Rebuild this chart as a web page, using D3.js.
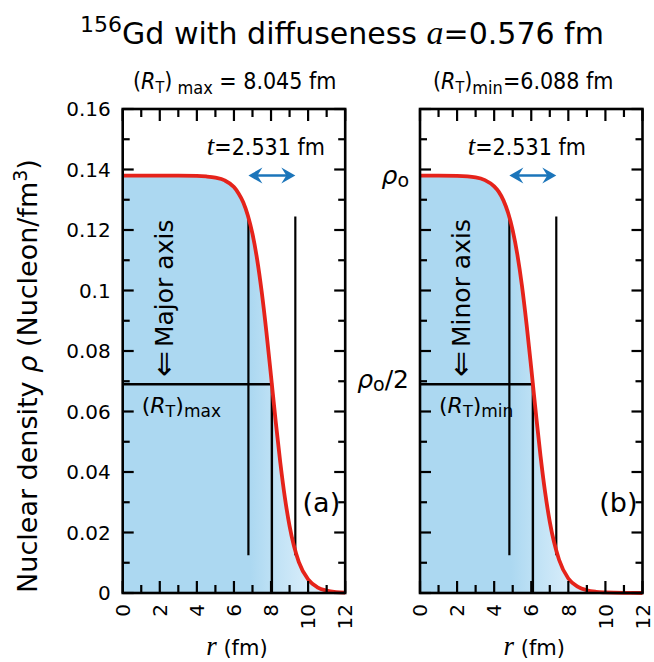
<!DOCTYPE html>
<html>
<head>
<meta charset="utf-8">
<script src="https://cdn.jsdelivr.net/npm/d3@7"></script>
<style>
  body { margin: 0; background: #fff; }
  svg { font-family: "DejaVu Sans", sans-serif; }
  .cond { font-family: "DejaVu Sans Condensed", "DejaVu Sans", sans-serif; font-stretch: condensed; }
</style>
</head>
<body>
<svg id="chart" width="654" height="662"></svg>
<script>
// density profile, major axis (a) and minor axis (b)
const rMajor = [0, 1, 2, 3, 4, 4.5, 5, 5.5, 6, 6.25, 6.5, 6.75, 7, 7.25, 7.5, 7.75, 8, 8.25, 8.5, 8.75, 9, 9.5, 10, 10.5, 11, 11.5, 12];
const rhoMajor = [0.138, 0.138, 0.138, 0.138, 0.1379, 0.1377, 0.1373, 0.1364, 0.1342, 0.1321, 0.1292, 0.1248, 0.1187, 0.1103, 0.0994, 0.0863, 0.0717, 0.0568, 0.0431, 0.0314, 0.0221, 0.0102, 0.0045, 0.0019, 0.0008, 0.0003, 0.0001];
const rMinor = [0, 1, 2, 3, 3.5, 4, 4.25, 4.5, 4.75, 5, 5.25, 5.5, 5.75, 6, 6.25, 6.5, 6.75, 7, 7.5, 8, 8.5, 9, 9.5, 10, 11, 12];
const rhoMinor = [0.138, 0.138, 0.1379, 0.1374, 0.1365, 0.1344, 0.1326, 0.1298, 0.1257, 0.1199, 0.1119, 0.1015, 0.0887, 0.0743, 0.0594, 0.0453, 0.0332, 0.0235, 0.0110, 0.0048, 0.0021, 0.0009, 0.0004, 0.0002, 0.00003, 0];

const rho0 = 0.138;
const rhoHalf = 0.069;
const radii = [8.045, 6.088];       // (R_T)max, (R_T)min
const r90 = [6.78, 4.82];           // inner edge of skin
const r10 = [9.31, 7.35];           // outer edge of skin
const lineTop = 0.1245, lineBottom = 0.0125;
const panelTags = ["(a)", "(b)"];
const axisNames = ["Major axis", "Minor axis"];
const subs = ["max", "min"];
const skinText = "2.531 fm";

const xTicks = [0, 1, 2, 3, 4, 5, 6, 7, 8, 9, 10, 11, 12];
const xLabels = [0, 2, 4, 6, 8, 10, 12];
const yTicks = [0, 0.01, 0.02, 0.03, 0.04, 0.05, 0.06, 0.07, 0.08, 0.09, 0.1, 0.11, 0.12, 0.13, 0.14, 0.15, 0.16];
const yLabels = ["0", "0.02", "0.04", "0.06", "0.08", "0.1", "0.12", "0.14", "0.16"];

const svg = d3.select("#chart");
const plotTop = 109, plotBottom = 593;
const panelLeft = [122.7, 420];
const panelW = 222.5;

const defs = svg.append("defs");
const blue = "#1b75ba";
const red = "#e5231b";

let y = d3.scaleLinear().domain([0, 0.16]).range([plotBottom, plotTop]);

function drawPanel(i, rs, rhos) {
    let x0 = panelLeft[i];
    let x = d3.scaleLinear().domain([0, 12]).range([x0, x0 + panelW]);
    let pts = rs.map((r, k) => ({r: r, rho: rhos[k]}));

    // gradient for the skin region
    let grad = defs.append("linearGradient")
        .attr("id", "skin" + i)
        .attr("gradientUnits", "userSpaceOnUse")
        .attr("x1", x(r90[i] + 0.1)).attr("x2", x(r10[i] + 0.6))
        .attr("y1", 0).attr("y2", 0);
    grad.append("stop").attr("offset", 0).attr("stop-color", "#acd8f1");
    grad.append("stop").attr("offset", 0.4).attr("stop-color", "#bee1f5");
    grad.append("stop").attr("offset", 1).attr("stop-color", "#d6ecfa");

    let g = svg.append("g");

    g.append("path")
        .datum(pts)
        .attr("fill", `url(#skin${i})`)
        .attr("d", d3.area().x(d => x(d.r)).y0(y(0)).y1(d => y(d.rho)).curve(d3.curveMonotoneX));

    // vertical skin lines
    [r90[i], r10[i]].forEach(r => {
        g.append("line")
            .attr("x1", x(r)).attr("x2", x(r))
            .attr("y1", y(lineTop)).attr("y2", y(lineBottom))
            .attr("stroke", "#000").attr("stroke-width", 2.2);
    });
    // half density line and radius
    g.append("path")
        .attr("d", `M${x(0)},${y(rhoHalf)}H${x(radii[i])}V${y(0)}`)
        .attr("fill", "none").attr("stroke", "#000").attr("stroke-width", 2.4);

    // curve
    g.append("path")
        .datum(pts)
        .attr("fill", "none")
        .attr("stroke", red)
        .attr("stroke-width", 3.8)
        .attr("d", d3.line().x(d => x(d.r)).y(d => y(d.rho)).curve(d3.curveMonotoneX));

    // ticks
    xTicks.forEach(t => {
        let len = t % 2 === 0 ? 12 : 8;
        g.append("line").attr("x1", x(t)).attr("x2", x(t)).attr("y1", plotBottom).attr("y2", plotBottom - len)
            .attr("stroke", "#000").attr("stroke-width", 2.2);
        g.append("line").attr("x1", x(t)).attr("x2", x(t)).attr("y1", plotTop).attr("y2", plotTop + len)
            .attr("stroke", "#000").attr("stroke-width", 2.2);
    });
    yTicks.forEach((t, k) => {
        let len = k % 2 === 0 ? 11 : 7;
        g.append("line").attr("x1", x(0)).attr("x2", x(0) + len).attr("y1", y(t)).attr("y2", y(t))
            .attr("stroke", "#000").attr("stroke-width", 2.2);
        g.append("line").attr("x1", x(12)).attr("x2", x(12) - len).attr("y1", y(t)).attr("y2", y(t))
            .attr("stroke", "#000").attr("stroke-width", 2.2);
    });

    // frame
    g.append("rect")
        .attr("x", x(0)).attr("y", plotTop)
        .attr("width", panelW).attr("height", plotBottom - plotTop)
        .attr("fill", "none").attr("stroke", "#000").attr("stroke-width", 2.6);

    // x tick labels (rotated)
    xLabels.forEach(v => {
        g.append("text")
            .attr("transform", `translate(${x(v)},${plotBottom + 11}) rotate(-90)`)
            .attr("text-anchor", "end")
            .attr("dy", "0.36em")
            .style("font-size", "20px")
            .text(v);
    });

    // x label
    let xl = g.append("text")
        .attr("x", x(6) + 3).attr("y", 655)
        .attr("text-anchor", "middle")
        .style("font-size", "21px");
    xl.append("tspan").style("font-family", "Liberation Serif").style("font-style", "italic")
        .style("font-size", "27px").text("r");
    xl.append("tspan").text(" (fm)");

    // skin arrow
    let ax1 = x(r90[i]), ax2 = x(r10[i]), ay = y(rho0);
    g.append("line").attr("x1", ax1 + 6).attr("x2", ax2 - 6).attr("y1", ay).attr("y2", ay)
        .attr("stroke", blue).attr("stroke-width", 2.6);
    g.append("path")
        .attr("d", `M${ax1},${ay}l14,-8l-5,8l5,8z M${ax2},${ay}l-14,-8l5,8l-5,8z`)
        .attr("fill", blue);

    let tt = g.append("text")
        .attr("class", "cond")
        .attr("x", (ax1 + ax2) / 2 - 6).attr("y", 155)
        .attr("text-anchor", "middle")
        .style("font-size", "23px");
    tt.append("tspan").style("font-family", "Liberation Serif").style("font-style", "italic")
        .style("font-size", "27px").text("t");
    tt.append("tspan").text("=" + skinText);

    // axis name, rotated, with a big double arrow
    let an = g.append("text")
        .attr("transform", `translate(${x0 + 50},${377}) rotate(-90)`)
        .attr("text-anchor", "start")
        .style("font-size", "25px");
    an.append("tspan").style("font-size", "31px").attr("dy", 1).text("\u21D0");
    an.append("tspan").attr("dy", -1).attr("dx", 4).text(axisNames[i]);

    // (R_T) label under the half line
    let rl = g.append("text")
        .attr("x", x0 + 19).attr("y", 413)
        .style("font-size", "22px");
    rl.append("tspan").text("(");
    rl.append("tspan").style("font-style", "italic").text("R");
    rl.append("tspan").attr("dy", 4).style("font-size", "16px").text("T");
    rl.append("tspan").attr("dy", -4).text(")");
    rl.append("tspan").attr("dy", 4).style("font-size", "17px").text(subs[i]);

    g.append("text")
        .attr("x", x(12) - 5).attr("y", 512)
        .attr("text-anchor", "end")
        .style("font-size", "27px")
        .text(panelTags[i]);

    // subtitle
    let st = g.append("text")
        .attr("class", "cond")
        .attr("x", i === 0 ? 133 : 433).attr("y", 89)
        .style("font-size", "23px");
    st.append("tspan").text("(");
    st.append("tspan").style("font-style", "italic").text("R");
    st.append("tspan").attr("dy", 4).style("font-size", "16px").text("T");
    st.append("tspan").attr("dy", -4).text(")");
    st.append("tspan").attr("dy", 5).style("font-size", "18px").text(i === 0 ? " " + subs[i] : subs[i]);
    st.append("tspan").attr("dy", -5).text((i === 0 ? " = " : "=") + radii[i].toFixed(3) + " fm");

    return x;
}

drawPanel(0, rMajor, rhoMajor);
drawPanel(1, rMinor, rhoMinor);

// left y tick labels
yLabels.forEach(s => {
    svg.append("text")
        .attr("x", panelLeft[0] - 12).attr("y", y(+s))
        .attr("dy", "0.36em")
        .attr("text-anchor", "end")
        .style("font-size", "20px")
        .text(s);
});

// right panel rho labels
let r0 = svg.append("text")
    .attr("x", panelLeft[1] - 11).attr("y", y(rho0) + 8)
    .attr("text-anchor", "end").style("font-size", "25px");
r0.append("tspan").style("font-style", "italic").text("\u03C1");
r0.append("tspan").attr("dy", 3).style("font-size", "19px").text("o");
let r2 = svg.append("text")
    .attr("x", panelLeft[1] - 11).attr("y", y(rhoHalf) + 4)
    .attr("text-anchor", "end").style("font-size", "25px");
r2.append("tspan").style("font-style", "italic").text("\u03C1");
r2.append("tspan").attr("dy", 3).style("font-size", "19px").text("o");
r2.append("tspan").attr("dy", -3).text("/2");

// y label
let yl = svg.append("text")
    .attr("transform", `translate(37,${376}) rotate(-90)`)
    .attr("text-anchor", "middle")
    .style("font-size", "27px");
yl.append("tspan").text("Nuclear density ");
yl.append("tspan").style("font-style", "italic").text("\u03C1");
yl.append("tspan").text(" (Nucleon/fm");
yl.append("tspan").attr("dy", -10).style("font-size", "19px").text("3");
yl.append("tspan").attr("dy", 10).text(")");

// title
let title = svg.append("text")
    .attr("x", 342).attr("y", 44)
    .attr("text-anchor", "middle")
    .style("font-size", "30px");
title.append("tspan").attr("dy", -12).style("font-size", "22px").text("156");
title.append("tspan").attr("dy", 12).text("Gd with diffuseness ");
title.append("tspan").style("font-family", "Liberation Serif").style("font-style", "italic")
    .style("font-size", "34px").text("a");
title.append("tspan").text("=0.576 fm");
</script>
</body>
</html>
